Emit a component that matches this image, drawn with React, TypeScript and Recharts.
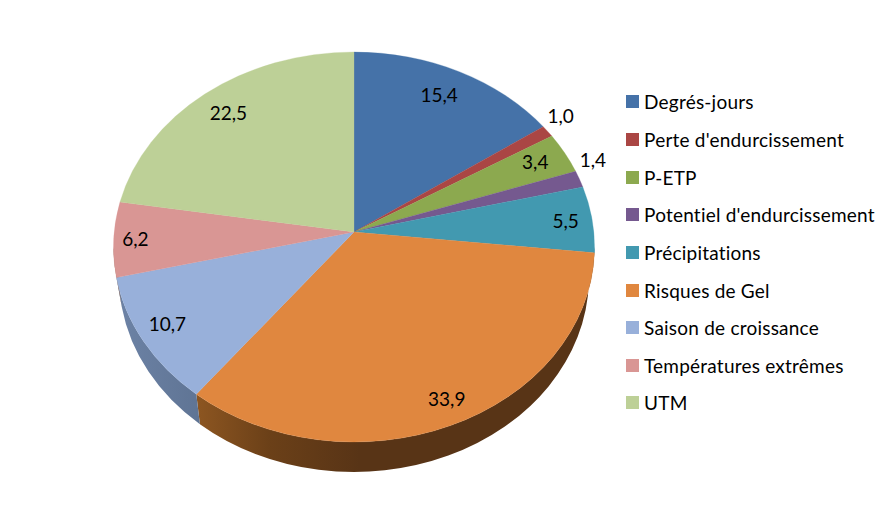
import React from 'react';
import { PieChart, Pie, Legend } from 'recharts';

const categories = ['Degrés-jours', "Perte d'endurcissement", 'P-ETP', "Potentiel d'endurcissement", 'Précipitations', 'Risques de Gel', 'Saison de croissance', 'Températures extrêmes', 'UTM'];
const values = [15.4, 1.0, 3.4, 1.4, 5.5, 33.9, 10.7, 6.2, 22.5];
const colors = ['#4572a8', '#aa4644', '#8ca94f', '#75598f', '#4299b0', '#e0873f', '#98b0da', '#d99694', '#bdd097'];
const wallFills = ['#2f4e74', '#73302e', '#5d7135', '#4f3c60', '#2d6776', 'url(#wallOrange)', 'url(#wallBlue)', '#937564', '#7f8c66'];

const LABEL_FX = [0.815, 1.067, 0.86, 1.06, 0.889, 0.925, 0.885, 0.91, 0.854];
const LABEL_FY = [0.854, 1.16, 0.89, 1.365, 0.91, 0.865, 0.844, 0.95, 0.856];

const W = 888, H = 505;
const CX = 354, CY = 232, R = 240.5;
const RATIO = 195 / 240.5;
const E_DY = 15;
const BETA = 15 / 195;
const DEPTH = 30;
const BOTTOM_RX = 235;
const FONT = 'Lato, sans-serif';

const data = categories.map((name, i) => ({ name, value: values[i], fill: colors[i], wall: wallFills[i] }));

const toEllipseDeg = (theta: number) => {
  const r = (theta * Math.PI) / 180;
  const raw = (Math.atan2(Math.sin(r) * Math.sqrt(1 - BETA * BETA), Math.cos(r) + BETA) * 180) / Math.PI;
  return raw + 360 * Math.round((theta - raw) / 360);
};
const onEllipse = (cx: number, cy: number, rx: number, ry: number, t: number) => {
  const r = (t * Math.PI) / 180;
  return [cx + rx * Math.sin(r), cy - ry * Math.cos(r)];
};

const TopSlice = (p: any) => {
  const ry = p.outerRadius * RATIO;
  const ecy = p.cy + E_DY;
  const t1 = toEllipseDeg(90 - p.startAngle);
  const t2 = toEllipseDeg(90 - p.endAngle);
  const a = onEllipse(p.cx, ecy, p.outerRadius, ry, t1);
  const b = onEllipse(p.cx, ecy, p.outerRadius, ry, t2);
  const d = `M${p.cx},${p.cy}L${a[0]},${a[1]}A${p.outerRadius},${ry} 0 ${t2 - t1 > 180 ? 1 : 0} 1 ${b[0]},${b[1]}Z`;
  return <path d={d} fill={p.fill} stroke={p.fill} strokeWidth={0.3} />;
};

const WallSlice = (p: any) => {
  const ry = p.outerRadius * RATIO;
  const ecy = p.cy + E_DY;
  const t1 = Math.max(toEllipseDeg(90 - p.startAngle), 90);
  const t2 = Math.min(toEllipseDeg(90 - p.endAngle), 270);
  if (t2 <= t1) return <g />;
  const a = onEllipse(p.cx, ecy, p.outerRadius, ry, t1);
  const b = onEllipse(p.cx, ecy, p.outerRadius, ry, t2);
  const c = onEllipse(p.cx, ecy + DEPTH, BOTTOM_RX, ry, t2);
  const e = onEllipse(p.cx, ecy + DEPTH, BOTTOM_RX, ry, t1);
  const d = `M${a[0]},${a[1]}A${p.outerRadius},${ry} 0 0 1 ${b[0]},${b[1]}L${c[0]},${c[1]}A${BOTTOM_RX},${ry} 0 0 0 ${e[0]},${e[1]}Z`;
  return <path d={d} fill={p.payload?.wall ?? p.wall} />;
};

const renderLabel = (p: any) => {
  const theta = 90 - p.midAngle;
  const t = toEllipseDeg(theta);
  const edge = onEllipse(p.cx, p.cy + E_DY, p.outerRadius, p.outerRadius * RATIO, t);
  const x = p.cx + (edge[0] - p.cx) * LABEL_FX[p.index];
  const y = p.cy + (edge[1] - p.cy) * LABEL_FY[p.index];
  return (
    <text x={x} y={y} textAnchor="middle" dominantBaseline="central" fontFamily={FONT} fontSize={19} fill="#000">
      {values[p.index].toFixed(1).replace('.', ',')}
    </text>
  );
};

const LegendList = ({ payload }: any) => {
  const seen = new Set<string>();
  const items = (payload ?? []).filter((e: any) => {
    if (seen.has(e.value)) return false;
    seen.add(e.value);
    return true;
  });
  return (
    <div style={{ fontFamily: FONT, fontSize: 19, letterSpacing: 0.22, color: '#000' }}>
      {items.map((e: any) => (
        <div key={e.value} style={{ height: 37.65, display: 'flex', alignItems: 'center', whiteSpace: 'nowrap' }}>
          <span style={{ width: 13, height: 13, background: e.color, marginRight: 5, flex: 'none' }} />
          <span>{e.value}</span>
        </div>
      ))}
    </div>
  );
};

export default function App() {
  return (
    <div style={{ position: 'absolute', left: 0, top: 0, width: W, height: H, background: '#fff' }}>
      <PieChart width={W} height={H} margin={{ top: 0, right: 0, bottom: 0, left: 0 }}>
        <defs>
          <linearGradient id="wallOrange" gradientUnits="userSpaceOnUse" x1="196" y1="0" x2="360" y2="0">
            <stop offset="0" stopColor="#8d5621" />
            <stop offset="0.45" stopColor="#6b4018" />
            <stop offset="1" stopColor="#583416" />
          </linearGradient>
          <linearGradient id="wallBlue" gradientUnits="userSpaceOnUse" x1="115" y1="0" x2="200" y2="0">
            <stop offset="0" stopColor="#6d83a6" />
            <stop offset="1" stopColor="#5f7494" />
          </linearGradient>
        </defs>
        <Pie data={data} dataKey="value" nameKey="name" cx={CX} cy={CY} outerRadius={R} startAngle={90} endAngle={-270}
          stroke="none" legendType="none" isAnimationActive={false} shape={WallSlice} />
        <Pie data={data} dataKey="value" nameKey="name" cx={CX} cy={CY} outerRadius={R} startAngle={90} endAngle={-270}
          stroke="none" isAnimationActive={false} shape={TopSlice} label={renderLabel} labelLine={false} />
        <Legend content={LegendList} itemSorter={null} wrapperStyle={{ position: 'absolute', left: 626, top: 83, width: 262, height: 345 }} />
      </PieChart>
    </div>
  );
}
